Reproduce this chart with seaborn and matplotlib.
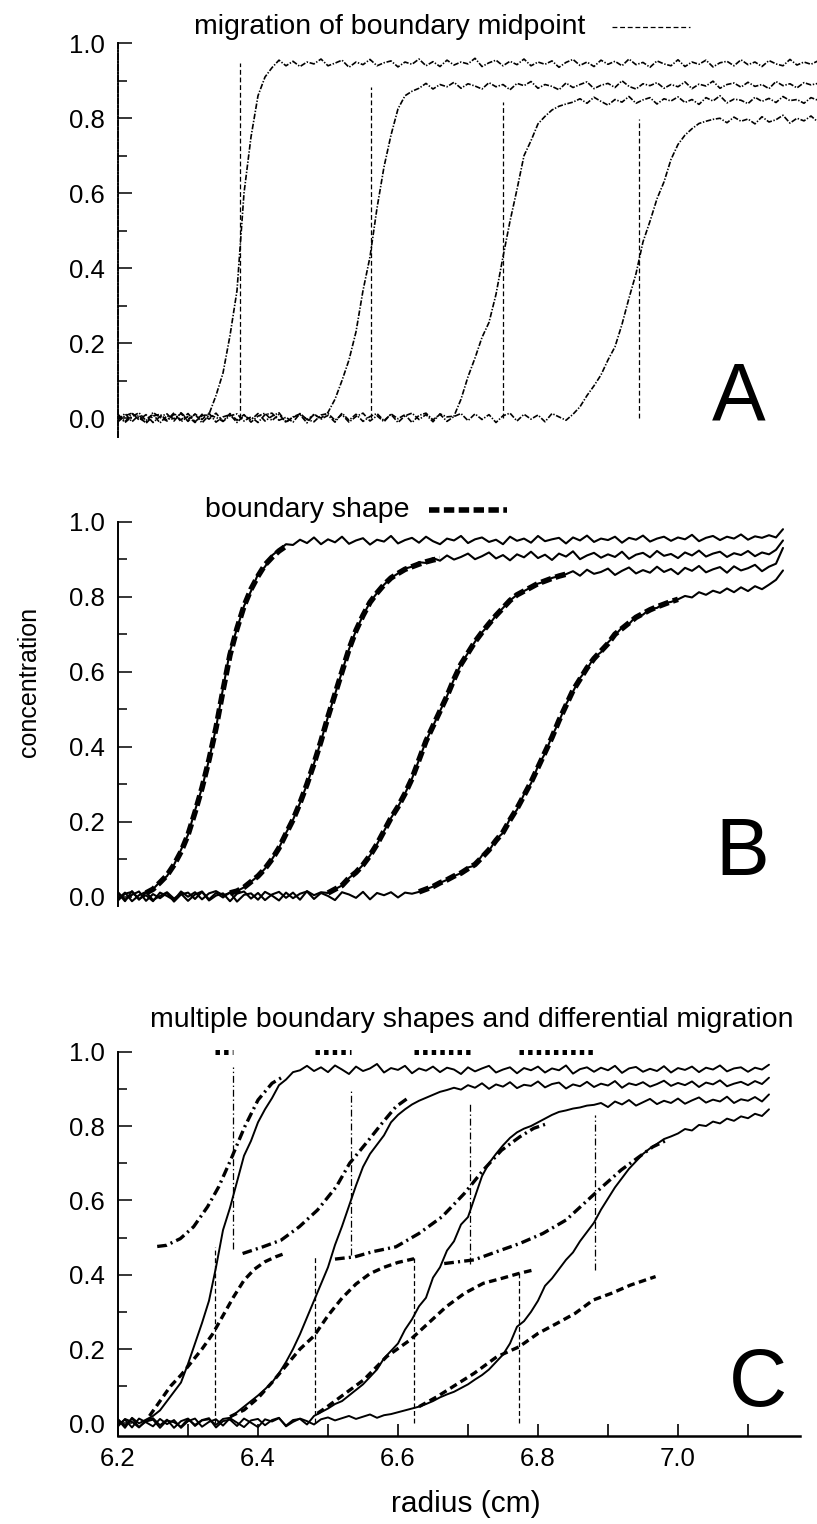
import numpy as np
import pandas as pd
import matplotlib.pyplot as plt
import seaborn as sns
from matplotlib.ticker import MultipleLocator, FormatStrFormatter


# =============================================================================
# Data
# =============================================================================

radius_a = [6.20, 6.21, 6.22, 6.23, 6.24, 6.25, 6.26, 6.27, 6.28, 6.29,
            6.30, 6.31, 6.32, 6.33, 6.34, 6.35, 6.36, 6.37, 6.38, 6.39,
            6.40, 6.41, 6.42, 6.43, 6.44, 6.45, 6.46, 6.47, 6.48, 6.49,
            6.50, 6.51, 6.52, 6.53, 6.54, 6.55, 6.56, 6.57, 6.58, 6.59,
            6.60, 6.61, 6.62, 6.63, 6.64, 6.65, 6.66, 6.67, 6.68, 6.69,
            6.70, 6.71, 6.72, 6.73, 6.74, 6.75, 6.76, 6.77, 6.78, 6.79,
            6.80, 6.81, 6.82, 6.83, 6.84, 6.85, 6.86, 6.87, 6.88, 6.89,
            6.90, 6.91, 6.92, 6.93, 6.94, 6.95, 6.96, 6.97, 6.98, 6.99,
            7.00, 7.01, 7.02, 7.03, 7.04, 7.05, 7.06, 7.07, 7.08, 7.09,
            7.10, 7.11, 7.12, 7.13, 7.14, 7.15, 7.16, 7.17, 7.18, 7.19,
            7.20]
radius_b = radius_a[:96]
radius_c = radius_a[:94]

# --- panel A: four scans ---
a_scan1 = [.01, -.01, .012, 0, -.012, .015, .002, -.008, .01, -.005,
           .012, -.01, .006, .01, .06, .12, .22, .34, .60, .75,
           .86, .91, .935, .955, .94, .952, .938, .95, .945, .958,
           .94, .947, .955, .936, .95, .943, .957, .94, .948, .953,
           .937, .95, .944, .958, .94, .951, .938, .955, .942, .95,
           .945, .96, .938, .948, .955, .94, .952, .943, .958, .94,
           .95, .944, .953, .936, .949, .957, .941, .95, .938, .955,
           .944, .952, .94, .958, .943, .949, .936, .953, .945, .94,
           .956, .938, .95, .944, .955, .937, .948, .952, .94, .956,
           .943, .95, .938, .954, .945, .94, .957, .942, .95, .944,
           .953]
a_scan2 = [-.005, .012, -.01, .008, -.014, .005, .01, -.006, .014, -.01,
           .004, -.012, .01, -.003, .013, -.009, .006, .011, -.008, .003,
           -.012, .009, .013, -.006, .002, -.011, .012, -.004, .008, 0,
           .015, .05, .10, .155, .23, .34, .43, .56, .67, .755,
           .825, .86, .872, .88, .893, .878, .89, .884, .896, .88,
           .892, .886, .878, .895, .884, .89, .876, .893, .887, .898,
           .88, .89, .885, .876, .894, .882, .89, .897, .879, .888,
           .893, .882, .90, .885, .878, .892, .887, .895, .88, .89,
           .884, .897, .879, .891, .886, .899, .88, .89, .894, .883,
           .896, .885, .89, .879, .898, .887, .892, .881, .895, .889,
           .893]
a_scan3 = [.008, -.012, .004, .014, -.007, .01, -.013, .006, -.002, .012,
           -.009, .011, -.004, .013, -.011, .003, .009, -.012, .007, -.005,
           .012, -.008, .005, .014, -.01, .002, .009, -.013, .011, -.003,
           .007, -.011, .013, -.006, .01, -.009, .004, .012, -.007, .01,
           -.012, .006, .013, -.004, .009, -.01, .011, .003, .005, .05,
           .11, .16, .215, .255, .33, .43, .525, .61, .70, .74,
           .785, .805, .822, .832, .838, .843, .852, .84, .856, .845,
           .835, .85, .843, .858, .84, .849, .855, .838, .852, .846,
           .857, .842, .85, .837, .855, .846, .86, .841, .851, .848,
           .839, .856, .845, .853, .842, .858, .847, .85, .84, .855,
           .848]
a_scan4 = [-.01, .006, .013, -.005, .009, -.012, .004, .011, -.008, .014,
           -.003, .01, -.013, .007, .002, -.009, .012, -.006, .009, -.011,
           .005, .013, -.007, .01, -.012, .003, .011, -.004, -.01, .008,
           .012, -.006, .009, -.011, .004, .013, -.008, .006, -.01, .011,
           -.002, .009, -.012, .007, .013, -.005, .01, -.009, .004, .012,
           -.007, .011, -.004, .009, -.012, .006, .013, -.008, .01, -.003,
           .008, -.01, .012, .003, -.006, .01, .03, .06, .086, .115,
           .155, .19, .25, .32, .385, .47, .525, .585, .63, .69,
           .73, .755, .772, .786, .792, .797, .80, .788, .803, .792,
           .798, .785, .804, .79, .796, .808, .787, .80, .793, .806,
           .79]
a_midpoint = [6.374, 6.561, 6.750, 6.945]
a_midpoint_top = [0.947, 0.883, 0.843, 0.797]

# --- panel B: four scans and the fitted boundary shapes ---
b_scan1 = [.01, -.012, .015, -.008, .012, .02, .04, .055, .085, .125,
           .165, .23, .29, .365, .45, .555, .655, .715, .775, .815,
           .86, .88, .91, .925, .94, .938, .952, .943, .958, .94,
           .953, .945, .96, .941, .95, .956, .939, .952, .947, .962,
           .942, .951, .957, .944, .96, .948, .94, .955, .95, .962,
           .943, .953, .958, .946, .952, .94, .96, .949, .955, .944,
           .962, .948, .953, .957, .942, .958, .95, .963, .946, .955,
           .951, .96, .944, .957, .952, .963, .947, .955, .96, .949,
           .958, .953, .965, .948, .957, .962, .951, .96, .955, .966,
           .952, .961, .957, .964, .958, .98]
b_scan2 = [-.01, .008, .013, -.006, .004, -.012, .011, .002, -.009, .014,
           0, .012, -.007, .009, .015, .004, .01, .015, .025, .04,
           .055, .075, .10, .13, .17, .205, .25, .30, .355, .415,
           .48, .54, .60, .66, .71, .75, .785, .81, .832, .85,
           .862, .875, .88, .892, .89, .903, .896, .91, .899, .906,
           .915, .90, .908, .918, .902, .911, .897, .913, .905, .92,
           .903, .912, .898, .915, .907, .921, .90, .91, .917, .904,
           .913, .906, .92, .901, .912, .917, .905, .922, .909, .914,
           .903, .918, .91, .923, .907, .915, .92, .906, .916, .911,
           .922, .908, .918, .913, .925, .95]
b_scan3 = [.012, -.008, .005, .014, -.011, .007, -.004, .01, -.013, .006,
           .011, -.006, .013, -.01, .003, .009, -.012, .008, .014, -.005,
           .01, -.009, .006, .013, -.003, .011, -.008, .015, .004, .012,
           .01, .02, .03, .05, .065, .085, .11, .14, .175, .21,
           .24, .275, .315, .365, .415, .455, .495, .535, .58, .62,
           .65, .68, .705, .725, .75, .77, .79, .805, .815, .825,
           .835, .84, .85, .855, .86, .868, .856, .872, .861, .866,
           .875, .858, .869, .878, .862, .871, .864, .88, .866, .874,
           .86, .877, .869, .882, .865, .873, .879, .864, .881, .87,
           .876, .885, .868, .88, .888, .93]
b_scan4 = [-.006, .011, -.012, .004, .013, -.009, .002, .012, -.005, .008,
           -.011, .006, .014, -.007, .01, -.002, .012, -.013, .005, .009,
           -.008, .013, .003, -.01, .011, -.004, .008, .014, -.006, .01,
           .002, -.009, .012, .006, -.003, .013, -.007, .01, .004, .012,
           -.002, .011, .008, .013, .02, .027, .037, .045, .055, .063,
           .078, .083, .11, .122, .153, .17, .208, .232, .273, .302,
           .348, .382, .428, .467, .513, .547, .583, .607, .638, .652,
           .678, .697, .718, .727, .748, .752, .768, .77, .783, .786,
           .793, .802, .798, .812, .805, .816, .81, .822, .812, .825,
           .815, .828, .82, .832, .845, .87]

b_fit1_x = [6.24, 6.25, 6.26, 6.27, 6.28, 6.29, 6.30, 6.31, 6.32, 6.33, 6.34,
            6.35, 6.36, 6.37, 6.38, 6.39, 6.40, 6.41, 6.42, 6.43, 6.44]
b_fit1_y = [.01, .02, .038, .057, .085, .12, .165, .225, .29, .365, .45,
            .55, .645, .715, .775, .82, .855, .885, .905, .922, .935]
b_fit2_x = [6.36, 6.37, 6.38, 6.39, 6.40, 6.41, 6.42, 6.43, 6.44, 6.45, 6.46,
            6.47, 6.48, 6.49, 6.50, 6.51, 6.52, 6.53, 6.54, 6.55, 6.56,
            6.57, 6.58, 6.59, 6.60, 6.61, 6.62, 6.63, 6.64, 6.65, 6.66]
b_fit2_y = [.01, .015, .025, .04, .055, .075, .10, .13, .168, .205, .25,
            .30, .355, .415, .48, .54, .60, .66, .71, .75, .785,
            .81, .832, .85, .862, .873, .88, .887, .893, .898, .902]
b_fit3_x = [6.50, 6.51, 6.52, 6.53, 6.54, 6.55, 6.56, 6.57, 6.58, 6.59, 6.60,
            6.61, 6.62, 6.63, 6.64, 6.65, 6.66, 6.67, 6.68, 6.69, 6.70,
            6.71, 6.72, 6.73, 6.74, 6.75, 6.76, 6.77, 6.78, 6.79, 6.80,
            6.81, 6.82, 6.83, 6.84]
b_fit3_y = [.01, .02, .03, .05, .065, .085, .11, .14, .175, .21, .24,
            .275, .315, .365, .415, .455, .495, .535, .58, .62, .65,
            .68, .705, .728, .75, .77, .79, .805, .815, .825, .835,
            .842, .849, .855, .86]
b_fit4_x = [6.63, 6.64, 6.65, 6.66, 6.67, 6.68, 6.69, 6.70, 6.71, 6.72,
            6.73, 6.74, 6.75, 6.76, 6.77, 6.78, 6.79, 6.80, 6.81, 6.82,
            6.83, 6.84, 6.85, 6.86, 6.87, 6.88, 6.89, 6.90, 6.91, 6.92,
            6.93, 6.94, 6.95, 6.96, 6.97, 6.98, 6.99, 7.00]
b_fit4_y = [.013, .02, .027, .037, .045, .055, .063, .075, .086, .105,
            .125, .15, .172, .205, .235, .27, .305, .345, .385, .425,
            .47, .51, .55, .58, .61, .635, .655, .675, .70, .715,
            .73, .745, .755, .765, .773, .78, .787, .793]

# --- panel C: four scans, slow and fast components ---
c_scan1 = [.01, -.012, .015, 0, .01, .02, .035, .06, .085, .11,
           .16, .215, .27, .33, .42, .52, .58, .65, .72, .76,
           .81, .845, .875, .91, .925, .945, .95, .962, .948, .958,
           .945, .963, .952, .94, .96, .948, .955, .967, .944, .956,
           .951, .962, .942, .955, .949, .96, .945, .957, .952, .94,
           .958, .947, .955, .962, .944, .952, .958, .942, .956, .95,
           .96, .944, .955, .95, .963, .941, .953, .958, .946, .957,
           .95, .962, .943, .955, .959, .946, .954, .948, .961, .944,
           .956, .951, .96, .945, .957, .952, .963, .947, .955, .958,
           .946, .957, .952, .965]
c_scan2 = [-.008, .012, .004, -.011, .009, .014, -.005, .01, -.012, .006,
           .013, -.007, .008, .011, -.004, .012, .015, .03, .045, .06,
           .075, .092, .11, .135, .165, .20, .24, .285, .33, .375,
           .42, .48, .53, .585, .64, .69, .725, .75, .775, .81,
           .83, .845, .858, .868, .876, .884, .892, .897, .903, .898,
           .91, .903, .915, .90, .912, .906, .918, .902, .911, .908,
           .92, .904, .913, .917, .901, .912, .907, .919, .905, .914,
           .909, .921, .903, .915, .91, .918, .906, .913, .922, .908,
           .916, .91, .92, .905, .917, .912, .923, .907, .914, .919,
           .91, .921, .913, .93]
c_scan3 = [.011, -.006, .013, -.01, .005, .01, -.012, .008, .003, -.009,
           .012, -.004, .009, .014, -.011, .006, .01, -.007, .013, .002,
           -.01, .011, .005, .014, -.006, .009, .012, -.003, .02, .03,
           .04, .052, .06, .075, .09, .105, .125, .145, .175, .195,
           .215, .252, .28, .315, .338, .392, .42, .465, .49, .535,
           .555, .61, .665, .70, .725, .748, .768, .783, .793, .80,
           .81, .82, .83, .838, .842, .847, .85, .855, .857, .862,
           .851, .866, .858, .87, .855, .864, .873, .859, .868, .862,
           .874, .86, .869, .877, .863, .871, .866, .879, .862, .872,
           .868, .878, .866, .885]
c_scan4 = [-.004, .01, -.011, .013, .003, -.008, .012, -.002, .009, -.012,
           .006, .013, -.009, .004, .011, -.006, .014, .002, -.01, .008,
           .012, -.005, .009, .015, -.008, .004, .013, .006, -.003, .011,
           .016, .008, .014, .02, .012, .018, .024, .015, .022, .025,
           .03, .035, .04, .045, .052, .06, .07, .078, .085, .095,
           .105, .118, .13, .145, .165, .185, .215, .26, .275, .30,
           .33, .37, .39, .415, .44, .46, .49, .515, .54, .575,
           .605, .635, .66, .685, .705, .725, .74, .752, .765, .772,
           .78, .792, .788, .803, .80, .812, .807, .82, .814, .826,
           .821, .833, .827, .845]

slow1_x = [6.245, 6.26, 6.275, 6.29, 6.305, 6.32, 6.335, 6.35, 6.365, 6.38,
           6.395, 6.41, 6.425, 6.438]
slow1_y = [.02, .06, .10, .13, .165, .20, .24, .29, .34, .385,
           .415, .435, .448, .457]
slow2_x = [6.36, 6.38, 6.40, 6.42, 6.44, 6.46, 6.48, 6.50, 6.52, 6.54,
           6.56, 6.58, 6.60, 6.623]
slow2_y = [.018, .036, .068, .11, .155, .20, .235, .29, .337, .375,
           .403, .42, .433, .443]
slow3_x = [6.485, 6.499, 6.525, 6.551, 6.584, 6.617, 6.643, 6.669, 6.695,
           6.722, 6.748, 6.774, 6.794]
slow3_y = [.027, .045, .081, .117, .18, .224, .269, .314, .35,
           .377, .39, .404, .413]
slow4_x = [6.630, 6.656, 6.682, 6.709, 6.741, 6.773, 6.800, 6.827, 6.853,
           6.879, 6.905, 6.932, 6.968]
slow4_y = [.045, .072, .103, .135, .179, .206, .242, .269, .296,
           .332, .35, .372, .395]

fast1_x = [6.256, 6.269, 6.289, 6.308, 6.328, 6.344, 6.361, 6.381, 6.400,
           6.420, 6.436]
fast1_y = [.476, .479, .497, .529, .583, .637, .709, .798, .87, .915, .933]
fast2_x = [6.378, 6.407, 6.433, 6.459, 6.485, 6.512, 6.531, 6.558, 6.577,
           6.597, 6.617]
fast2_y = [.457, .475, .493, .529, .574, .637, .70, .762, .807, .852, .879]
fast3_x = [6.510, 6.538, 6.564, 6.597, 6.630, 6.663, 6.695, 6.722, 6.748,
           6.774, 6.794, 6.814]
fast3_y = [.442, .448, .462, .475, .511, .556, .619, .682, .735,
           .771, .794, .807]
fast4_x = [6.666, 6.709, 6.741, 6.774, 6.807, 6.840, 6.866, 6.892, 6.919,
           6.945, 6.964, 6.984]
fast4_y = [.43, .44, .462, .484, .511, .547, .592, .637, .682,
           .718, .744, .762]

slow_midpoint = [6.338, 6.482, 6.623, 6.773]
slow_midpoint_top = [0.475, 0.453, 0.444, 0.408]
fast_midpoint = [6.364, 6.533, 6.703, 6.881]
fast_midpoint_low = [0.470, 0.453, 0.430, 0.412]
fast_midpoint_top = [0.960, 0.900, 0.861, 0.830]
migration_bar_level = 0.998


def scans_frame(x, scans):
    return pd.DataFrame({
        'radius': np.tile(x, len(scans)),
        'conc': np.concatenate(scans),
        'scan': np.repeat(np.arange(len(scans)), len(x)),
    })


def pairs_frame(xs, ys):
    return pd.concat([pd.DataFrame({'radius': x, 'conc': y, 'scan': i})
                      for i, (x, y) in enumerate(zip(xs, ys))])


# =============================================================================
# Settings
# =============================================================================

sns.set_theme(style='ticks')
plt.rcParams['font.family'] = ['Liberation Sans', 'DejaVu Sans']
plt.rcParams['lines.scale_dashes'] = False
plt.rcParams['axes.edgecolor'] = 'black'
plt.rcParams['text.color'] = 'black'
plt.rcParams['xtick.color'] = 'black'
plt.rcParams['ytick.color'] = 'black'

W, H = 817, 1524
fig = plt.figure(figsize=(W / 100, H / 100), dpi=100)


def add_axes_px(left, right, top, bottom):
    return fig.add_axes([left / W, 1 - bottom / H, (right - left) / W, (bottom - top) / H])


def style_y(ax):
    ax.yaxis.set_major_locator(MultipleLocator(0.2))
    ax.yaxis.set_minor_locator(MultipleLocator(0.1))
    ax.yaxis.set_major_formatter(FormatStrFormatter('%.1f'))
    ax.tick_params(axis='y', which='major', direction='in', length=10, width=1.1,
                   pad=9.5, labelsize=18.5, colors='black', labelcolor='black')
    ax.tick_params(axis='y', which='minor', direction='in', length=6.5, width=1.1,
                   colors='black')
    ax.spines['left'].set_linewidth(1.4)
    ax.set_xlabel('')
    ax.set_ylabel('')


line_kw = dict(x='radius', y='conc', units='scan', estimator=None,
               color='black', legend=False)

# =============================================================================
# Panel A: migration of boundary midpoint
# =============================================================================

ax_a = add_axes_px(118, 817, 43.3, 436.75)
sns.lineplot(data=scans_frame(radius_a, [a_scan1, a_scan2, a_scan3, a_scan4]),
             linewidth=1.2, linestyle=(0, (4, 1.2, 1, 1.2)), ax=ax_a, **line_kw)
vl = ax_a.vlines(a_midpoint, 0, a_midpoint_top, colors='black', linewidth=0.9,
                 linestyles=[(0, (3.5, 2))])
ax_a.set_xlim(6.2, 7.1986)
ax_a.set_ylim(-0.05, 1.0)
style_y(ax_a)
ax_a.spines['left'].set_linestyle((0, (4, 1.5, 1, 1.5)))
sns.despine(ax=ax_a, bottom=True)
ax_a.set_xticks([])
ax_a.text(7.049, -0.005, 'A', fontsize=58, ha='left', va='baseline')
ax_a.legend(handles=[vl], labels=['migration of boundary midpoint'],
            loc='lower left', bbox_to_anchor=(194 / W, 1 - 40.5 / H),
            bbox_transform=fig.transFigure, frameon=False, borderpad=0,
            borderaxespad=0, markerfirst=False, handlelength=2.74,
            handletextpad=0.95, handleheight=0.1, fontsize=20.5)

# =============================================================================
# Panel B: boundary shape
# =============================================================================

ax_b = add_axes_px(118, 800, 521.7, 906.1)
sns.lineplot(data=scans_frame(radius_b, [b_scan1, b_scan2, b_scan3, b_scan4]),
             linewidth=1.5, ax=ax_b, **line_kw)
n0 = len(ax_b.lines)
sns.lineplot(data=pairs_frame([b_fit1_x, b_fit2_x, b_fit3_x, b_fit4_x],
                              [b_fit1_y, b_fit2_y, b_fit3_y, b_fit4_y]),
             linewidth=4.0, linestyle=(0, (7.5, 3.2)), ax=ax_b, **line_kw)
fit_line = ax_b.lines[n0]
ax_b.set_xlim(6.2, 7.1743)
ax_b.set_ylim(-0.025, 1.0)
style_y(ax_b)
sns.despine(ax=ax_b, bottom=True)
ax_b.set_xticks([])
ax_b.text(7.053, 0.058, 'B', fontsize=58, ha='left', va='baseline')
ax_b.legend(handles=[fit_line], labels=['boundary shape'],
            loc='lower left', bbox_to_anchor=(205 / W, 1 - 522.7 / H),
            bbox_transform=fig.transFigure, frameon=False, borderpad=0,
            borderaxespad=0, markerfirst=False, handlelength=2.74,
            handletextpad=0.7, handleheight=0.0, fontsize=20.5)

# =============================================================================
# Panel C: multiple boundary shapes and differential migration
# =============================================================================

ax_c = add_axes_px(118, 800, 1051.7, 1435.5)
sns.lineplot(data=scans_frame(radius_c, [c_scan1, c_scan2, c_scan3, c_scan4]),
             linewidth=1.4, ax=ax_c, **line_kw)
sns.lineplot(data=pairs_frame([slow1_x, slow2_x, slow3_x, slow4_x],
                              [slow1_y, slow2_y, slow3_y, slow4_y]),
             linewidth=2.4, linestyle=(0, (5.5, 3.2)), ax=ax_c, **line_kw)
sns.lineplot(data=pairs_frame([fast1_x, fast2_x, fast3_x, fast4_x],
                              [fast1_y, fast2_y, fast3_y, fast4_y]),
             linewidth=2.4, linestyle=(0, (7, 3, 1.5, 3)), ax=ax_c, **line_kw)
ax_c.vlines(slow_midpoint, 0, slow_midpoint_top, colors='black', linewidth=0.9,
            linestyles=[(0, (3.5, 2))])
ax_c.vlines(fast_midpoint, fast_midpoint_low, fast_midpoint_top, colors='black',
            linewidth=0.9, linestyles=[(0, (5, 2, 1, 2))])
ax_c.hlines([migration_bar_level] * len(slow_midpoint), slow_midpoint, fast_midpoint,
            colors='black', linewidth=3.6, linestyles=[(0, (3.2, 3.0))], clip_on=False)
ax_c.set_xlim(6.2, 7.1743)
ax_c.set_ylim(-0.0326, 1.0)
style_y(ax_c)
ax_c.xaxis.set_major_locator(MultipleLocator(0.2))
ax_c.xaxis.set_minor_locator(MultipleLocator(0.1))
ax_c.xaxis.set_major_formatter(FormatStrFormatter('%.1f'))
ax_c.tick_params(axis='x', which='both', direction='in', length=8.6, width=1.2,
                 pad=8, labelsize=18.5, colors='black', labelcolor='black')
ax_c.spines['bottom'].set_linewidth(1.8)
sns.despine(ax=ax_c)
ax_c.text(7.073, 0.048, 'C', fontsize=58, ha='left', va='baseline')

fig.text(150 / W, 1 - 1026.7 / H, 'multiple boundary shapes and differential migration',
         fontsize=20.5, ha='left', va='baseline')
fig.text(29 / W, 1 - 682 / H, 'concentration', fontsize=18, rotation=90,
         ha='center', va='center')
fig.text(466 / W, 1 - 1511.7 / H, 'radius (cm)', fontsize=21.5,
         ha='center', va='baseline')

plt.savefig('out.png', dpi=100)
